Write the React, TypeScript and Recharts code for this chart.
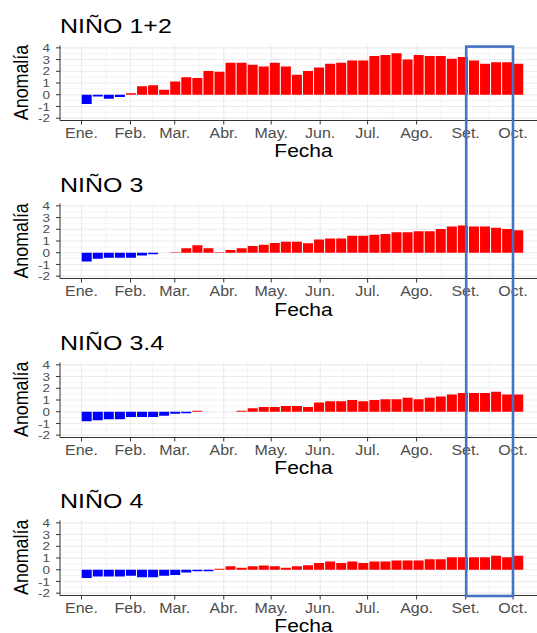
import { BarChart, Bar, XAxis, YAxis, CartesianGrid, Cell } from "recharts";

// semanas (centro de cada barra semanal)
const semanas = [
  "2023-01-04", "2023-01-11", "2023-01-18", "2023-01-25", "2023-02-01", "2023-02-08", "2023-02-15", "2023-02-22",
  "2023-03-01", "2023-03-08", "2023-03-15", "2023-03-22", "2023-03-29", "2023-04-05", "2023-04-12", "2023-04-19",
  "2023-04-26", "2023-05-03", "2023-05-10", "2023-05-17", "2023-05-24", "2023-05-31", "2023-06-07", "2023-06-14",
  "2023-06-21", "2023-06-28", "2023-07-05", "2023-07-12", "2023-07-19", "2023-07-26", "2023-08-02", "2023-08-09",
  "2023-08-16", "2023-08-23", "2023-08-30", "2023-09-06", "2023-09-13", "2023-09-20", "2023-09-27", "2023-10-04",
];

const nino12 = [
  -0.8, -0.15, -0.35, -0.2, 0.12, 0.72, 0.8, 0.43, 1.13, 1.5, 1.42, 2.03, 1.97, 2.72, 2.72, 2.55, 2.4, 2.72, 2.4, 1.71,
  2.03, 2.32, 2.64, 2.72, 2.93, 2.93, 3.3, 3.39, 3.54, 3.01, 3.39, 3.3, 3.3, 3.07, 3.22, 2.93, 2.64, 2.78, 2.78, 2.64,
];
const nino3 = [
  -0.75, -0.52, -0.43, -0.43, -0.43, -0.23, -0.12, 0, 0.03, 0.38, 0.64, 0.38, 0.05, 0.23, 0.38, 0.58, 0.67, 0.84, 0.93, 0.93,
  0.81, 1.13, 1.22, 1.22, 1.45, 1.45, 1.54, 1.59, 1.74, 1.74, 1.83, 1.83, 2.03, 2.23, 2.32, 2.23, 2.23, 2.14, 2.03, 1.91,
];
const nino34 = [
  -0.81, -0.72, -0.64, -0.64, -0.46, -0.46, -0.46, -0.35, -0.17, -0.12, 0.09, 0, 0, 0, 0.09, 0.29, 0.41, 0.41, 0.49, 0.49,
  0.41, 0.78, 0.9, 0.9, 0.99, 0.9, 0.99, 1.07, 1.07, 1.19, 1.07, 1.19, 1.3, 1.48, 1.59, 1.59, 1.59, 1.71, 1.48, 1.48,
];
const nino4 = [
  -0.7, -0.58, -0.58, -0.58, -0.52, -0.64, -0.64, -0.52, -0.46, -0.23, -0.14, -0.14, 0.09, 0.29, 0.17, 0.29, 0.36, 0.29, 0.17, 0.29,
  0.38, 0.58, 0.7, 0.58, 0.7, 0.58, 0.7, 0.7, 0.78, 0.78, 0.78, 0.9, 0.9, 1.07, 1.07, 1.07, 1.07, 1.19, 1.07, 1.19,
];

const regiones = ["NIÑO 1+2", "NIÑO 3", "NIÑO 3.4", "NIÑO 4"];
const mesesInicio = [
  "2023-01-01", "2023-02-01", "2023-03-01", "2023-04-01", "2023-05-01",
  "2023-06-01", "2023-07-01", "2023-08-01", "2023-09-01", "2023-10-01",
];
const mesesEtiqueta = ["Ene.", "Feb.", "Mar.", "Abr.", "May.", "Jun.", "Jul.", "Ago.", "Set.", "Oct."];
const yTicks = [-2, -1, 0, 1, 2, 3, 4];

const FONT = "'Liberation Sans', Arial, Helvetica, sans-serif";
const SQ = 0.87; // el original está algo aplastado en vertical

const dia = (s: string) => (Date.parse(s) - Date.parse("2023-01-01")) / 86400000;
const xTicks = mesesInicio.map(dia);
const xMinor = [...xTicks.slice(1).map((t, i) => (t + xTicks[i]) / 2), xTicks[xTicks.length - 1] + 15.5];
const yMinor = yTicks.slice(1).map((t) => t - 0.5);
const xDomain: [number, number] = [-13.6, 294.5];

const XTick = (p: any) => {
  const i = xTicks.indexOf(p.payload.value);
  return (
    <g transform={`translate(${p.x},${p.y}) scale(1,${SQ})`}>
      <text x={0} y={0} dy={13.6} textAnchor="middle" fontSize={16} fill="#4D4D4D" fontFamily={FONT}>
        {mesesEtiqueta[i]}
      </text>
    </g>
  );
};

const YTick = (p: any) => (
  <g transform={`translate(${p.x},${p.y}) scale(1,${SQ})`}>
    <text x={0} y={0} dy={4.7} textAnchor="end" fontSize={13.5} fill="#4D4D4D" fontFamily={FONT}>
      {p.payload.value}
    </text>
  </g>
);

function Panel({ valores, top }: { valores: number[]; top: number }) {
  const data = semanas.map((s, i) => ({ d: dia(s), v: valores[i] }));
  return (
    <div style={{ position: "absolute", left: 0, top, width: 560, height: 160 }}>
      <BarChart width={560} height={160} data={data} barSize={10} margin={{ top: 45.5, right: 13, left: 0, bottom: 0 }}>
        <CartesianGrid stroke="#EDEDED" strokeWidth={0.6} horizontalValues={yMinor} verticalValues={xMinor} />
        <CartesianGrid stroke="#EBEBEB" strokeWidth={1.1} horizontalValues={yTicks} verticalValues={xTicks} />
        <XAxis
          xAxisId="top"
          orientation="top"
          type="number"
          dataKey="d"
          domain={xDomain}
          allowDataOverflow
          height={0}
          tick={false}
          tickLine={false}
          axisLine={{ stroke: "#333333" }}
        />
        <XAxis
          type="number"
          dataKey="d"
          domain={xDomain}
          ticks={xTicks}
          interval={0}
          allowDataOverflow
          height={39.5}
          tickSize={4}
          tickMargin={2}
          tick={<XTick />}
          tickLine={{ stroke: "#333333" }}
          axisLine={{ stroke: "#333333" }}
        />
        <YAxis
          type="number"
          domain={[-2.2, 4.2]}
          ticks={yTicks}
          interval={0}
          allowDataOverflow
          width={60}
          tickSize={4}
          tickMargin={6}
          tick={<YTick />}
          tickLine={{ stroke: "#333333" }}
          axisLine={{ stroke: "#333333" }}
        />
        <Bar dataKey="v" isAnimationActive={false}>
          {data.map((r, i) => (
            <Cell key={i} fill={r.v < 0 ? "#0000FF" : "#FF0000"} />
          ))}
        </Bar>
      </BarChart>
    </div>
  );
}

export default function App() {
  const series = [nino12, nino3, nino34, nino4];
  const tops = [0, 158.4, 316.8, 474.8];
  return (
    <div style={{ position: "absolute", left: 0, top: 0, width: 537, height: 633, overflow: "hidden", background: "#fff" }}>
      {series.map((v, i) => (
        <Panel key={regiones[i]} valores={v} top={tops[i]} />
      ))}
      <svg width={537} height={633} style={{ position: "absolute", left: 0, top: 0, pointerEvents: "none" }}>
        {regiones.map((r, i) => (
          <g key={r}>
            <g transform={`translate(60,${tops[i] + 33.3}) scale(1,0.84)`}>
              <text x={0} y={0} fontSize={25} fill="#000" fontFamily={FONT}>
                {r}
              </text>
            </g>
            <g transform={`translate(28.3,${tops[i] + 82.5}) scale(1,${SQ}) rotate(-90)`}>
              <text x={0} y={0} textAnchor="middle" fontSize={20.5} fill="#000" fontFamily={FONT}>
                Anomalía
              </text>
            </g>
            <g transform={`translate(303.5,${tops[i] + 157.2}) scale(1,0.9)`}>
              <text x={0} y={0} textAnchor="middle" fontSize={21} fill="#000" fontFamily={FONT}>
                Fecha
              </text>
            </g>
          </g>
        ))}
        <rect x={466.2} y={46.6} width={46.8} height={549.4} fill="none" stroke="#4472C4" strokeWidth={2.6} />
      </svg>
    </div>
  );
}
